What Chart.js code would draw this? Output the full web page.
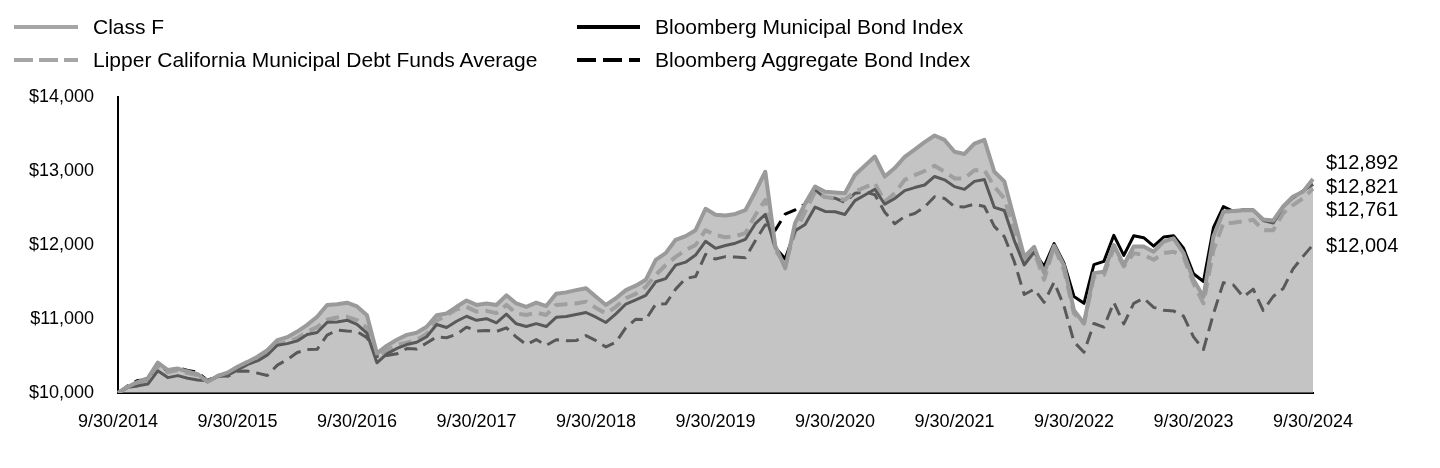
<!DOCTYPE html>
<html>
<head>
<meta charset="utf-8">
<script src="https://cdn.jsdelivr.net/npm/chart.js@4.4.1/dist/chart.umd.min.js"></script>
<style>
  html, body { margin: 0; padding: 0; background: #fff; }
  #wrap { position: relative; width: 1440px; height: 468px; font-family: 'Liberation Sans', Arial, sans-serif; }
  #chart { position: absolute; left: 0; top: 0; }
  .leg { position: absolute; height: 24px; display: flex; align-items: center; font-size: 21px; color: #000; white-space: nowrap; }
  .leg svg { display: block; }
</style>
</head>
<body>
<div id="wrap">
  <canvas id="chart" width="1440" height="468"></canvas>
  <div class="leg" style="left:14px; top:15px;">
    <svg width="64" height="8" style="margin-right:15px"><line x1="0" y1="4" x2="64" y2="4" stroke="#a6a6a6" stroke-width="4"/></svg>Class F</div>
  <div class="leg" style="left:14px; top:48px;">
    <svg width="64" height="8" style="margin-right:15px"><line x1="0" y1="4" x2="64" y2="4" stroke="#a6a6a6" stroke-width="4" stroke-dasharray="19 6"/></svg>Lipper California Municipal Debt Funds Average</div>
  <div class="leg" style="left:577px; top:15px;">
    <svg width="63" height="8" style="margin-right:15px"><line x1="0" y1="4" x2="63" y2="4" stroke="#000" stroke-width="4"/></svg>Bloomberg Municipal Bond Index</div>
  <div class="leg" style="left:577px; top:48px;">
    <svg width="63" height="8" style="margin-right:15px"><line x1="0" y1="4" x2="63" y2="4" stroke="#000" stroke-width="4" stroke-dasharray="19 7"/></svg>Bloomberg Aggregate Bond Index</div>
</div>
<script>
// tick labels shown on the x axis (one per fiscal year end)
var tickLabels = ['9/30/2014', '9/30/2015', '9/30/2016', '9/30/2017', '9/30/2018', '9/30/2019',
                  '9/30/2020', '9/30/2021', '9/30/2022', '9/30/2023', '9/30/2024'];

// monthly categories, Sep 2014 .. Sep 2024
var months = [];
for (var y = 2014, m = 9; y < 2024 || (y === 2024 && m <= 9); ) {
    months.push(y + '-' + (m < 10 ? '0' + m : m));
    m++;
    if (m > 12) { m = 1; y++; }
}

// growth of $10,000
var classF = [10000,
    10085, 10150, 10200, 10410, 10310, 10330, 10290, 10255, 10150, 10230, 10275, 10355,
    10420, 10490, 10580, 10715, 10755, 10830, 10920, 11030, 11190, 11200, 11220, 11170,
    11050, 10535, 10640, 10720, 10785, 10815, 10895, 11050, 11075, 11165, 11250, 11190,
    11210, 11190, 11320, 11210, 11165, 11220, 11175, 11340, 11360, 11390, 11415, 11300,
    11190, 11280, 11390, 11450, 11530, 11800, 11890, 12070, 12120, 12200, 12490, 12410,
    12400, 12420, 12470, 12720, 12990, 11990, 11685, 12300, 12560, 12790, 12720, 12710,
    12700, 12945, 13070, 13195, 12925, 13040, 13190, 13290, 13390, 13480, 13420, 13260,
    13230, 13370, 13420, 12990, 12860, 12350, 11840, 11975, 11620, 11990, 11720, 11120,
    10940, 11620, 11640, 12000, 11730, 11980, 11980, 11910, 12045, 12090, 11890, 11530,
    11300, 12115, 12450, 12460, 12470, 12470, 12345, 12330, 12520, 12655, 12720, 12892];

var lipper = [10000,
    10090, 10130, 10180, 10370, 10280, 10310, 10270, 10240, 10160, 10220, 10250, 10320,
    10390, 10440, 10520, 10660, 10690, 10740, 10830, 10890, 10990, 11020, 11030, 10985,
    10880, 10490, 10580, 10650, 10680, 10715, 10800, 10980, 11050, 11130, 11165, 11100,
    11110, 11080, 11190, 11075, 11055, 11085, 11055, 11190, 11200, 11210, 11235, 11150,
    11075, 11165, 11280, 11340, 11435, 11595, 11730, 11840, 11930, 12000, 12200, 12135,
    12105, 12120, 12160, 12405, 12610, 11930, 11750, 12180, 12450, 12720, 12650, 12630,
    12610, 12720, 12780, 12835, 12585, 12700, 12880, 12945, 13000, 13070, 12990, 12900,
    12900, 13010, 13010, 12790, 12630, 12200, 11775, 11910, 11530, 11980, 11660, 11075,
    10940, 11570, 11595, 11955, 11710, 11890, 11865, 11800, 11890, 11910, 11840, 11480,
    11210, 11930, 12295, 12300, 12320, 12340, 12200, 12200, 12430, 12540, 12630, 12761];

var muni = [10000,
    10076, 10096, 10121, 10300, 10208, 10235, 10199, 10176, 10164, 10221, 10240, 10310,
    10386, 10433, 10514, 10645, 10667, 10704, 10790, 10818, 10955, 10960, 10984, 10927,
    10808, 10408, 10529, 10602, 10655, 10685, 10761, 10926, 10885, 10970, 11037, 10982,
    11004, 10949, 11065, 10935, 10898, 10937, 10898, 11023, 11034, 11060, 11088, 11024,
    10953, 11069, 11202, 11260, 11320, 11503, 11546, 11728, 11768, 11864, 12050, 11955,
    11993, 12024, 12076, 12288, 12413, 11964, 11813, 12192, 12277, 12513, 12454, 12449,
    12413, 12600, 12676, 12753, 12551, 12628, 12734, 12776, 12811, 12926, 12881, 12789,
    12752, 12860, 12884, 12508, 12466, 12063, 11730, 11904, 11710, 12018, 11755, 11305,
    11212, 11734, 11779, 12131, 11860, 12125, 12099, 11985, 12108, 12125, 11956, 11612,
    11507, 12234, 12518, 12456, 12474, 12474, 12332, 12296, 12510, 12640, 12730, 12821];

var agg = [10000,
    10098, 10170, 10179, 10393, 10295, 10342, 10305, 10280, 10168, 10239, 10225, 10294,
    10296, 10269, 10236, 10377, 10451, 10547, 10587, 10590, 10781, 10849, 10837, 10830,
    10748, 10493, 10508, 10529, 10600, 10594, 10676, 10758, 10747, 10793, 10890, 10838,
    10845, 10831, 10881, 10756, 10654, 10722, 10643, 10719, 10706, 10708, 10776, 10707,
    10622, 10686, 10883, 10998, 10991, 11202, 11205, 11404, 11548, 11573, 11873, 11810,
    11843, 11837, 11829, 12056, 12273, 12201, 12418, 12476, 12555, 12742, 12639, 12633,
    12576, 12699, 12717, 12680, 12443, 12288, 12385, 12426, 12513, 12653, 12629, 12519,
    12515, 12553, 12520, 12251, 12114, 11777, 11331, 11403, 11224, 11498, 11173, 10690,
    10551, 10939, 10890, 11225, 10934, 11212, 11280, 11157, 11117, 11109, 11038, 10758,
    10588, 11068, 11492, 11461, 11299, 11403, 11115, 11304, 11411, 11678, 11846, 12004];

function money(v) {
    return '$' + Number(v).toLocaleString('en-US');
}

Chart.defaults.font.family = "'Liberation Sans', Arial, sans-serif";
Chart.defaults.font.size = 18;
Chart.defaults.color = '#000';

// ending values written at the right of the plot
var endLabels = {
    id: 'endLabels',
    afterDraw: function(chart) {
        var ctx = chart.ctx;
        var area = chart.chartArea;
        var rows = [
            { v: classF[classF.length - 1], y: 163 },
            { v: muni[muni.length - 1], y: 187 },
            { v: lipper[lipper.length - 1], y: 210 },
            { v: agg[agg.length - 1], y: 246 }
        ];
        ctx.save();
        ctx.font = "20px 'Liberation Sans', Arial, sans-serif";
        ctx.fillStyle = '#000';
        ctx.textAlign = 'left';
        ctx.textBaseline = 'middle';
        rows.forEach(function(r) {
            ctx.fillText(money(r.v), area.right + 13, r.y);
        });
        ctx.restore();
    }
};

var ctx = document.getElementById('chart');
var myChart = new Chart(ctx, {
    type: 'line',
    data: {
        labels: months,
        datasets: [
            {
                label: 'Class F',
                data: classF,
                borderColor: '#9a9a9a',
                borderWidth: 4,
                backgroundColor: 'rgba(154,154,154,0.58)',
                fill: 'start'
            },
            {
                label: 'Bloomberg Municipal Bond Index',
                data: muni,
                borderColor: '#000',
                borderWidth: 3,
                fill: false
            },
            {
                label: 'Lipper California Municipal Debt Funds Average',
                data: lipper,
                borderColor: '#a6a6a6',
                borderWidth: 4,
                borderDash: [13, 7],
                fill: false
            },
            {
                label: 'Bloomberg Aggregate Bond Index',
                data: agg,
                borderColor: '#000',
                borderWidth: 3,
                borderDash: [13, 7],
                fill: false
            }
        ]
    },
    options: {
        responsive: false,
        animation: false,
        layout: { padding: { top: 97, right: 127, left: 0, bottom: 0 } },
        elements: {
            point: { radius: 0 },
            line: { tension: 0, borderJoinStyle: 'round' }
        },
        plugins: {
            legend: { display: false },
            tooltip: { enabled: false }
        },
        scales: {
            x: {
                grid: { display: false, drawTicks: false },
                border: { display: true, color: '#000', width: 2 },
                ticks: {
                    autoSkip: false,
                    maxRotation: 0,
                    padding: 18,
                    callback: function(value, index) {
                        return index % 12 === 0 ? tickLabels[index / 12] : null;
                    }
                },
                afterFit: function(scale) { scale.height = 75; }
            },
            y: {
                min: 10000,
                max: 14000,
                grid: { display: false, drawTicks: false },
                border: { display: true, color: '#000', width: 2 },
                ticks: {
                    stepSize: 1000,
                    padding: 24,
                    callback: function(value) { return money(value); }
                },
                afterFit: function(scale) { scale.width = 118; }
            }
        }
    },
    plugins: [endLabels]
});
</script>
</body>
</html>
